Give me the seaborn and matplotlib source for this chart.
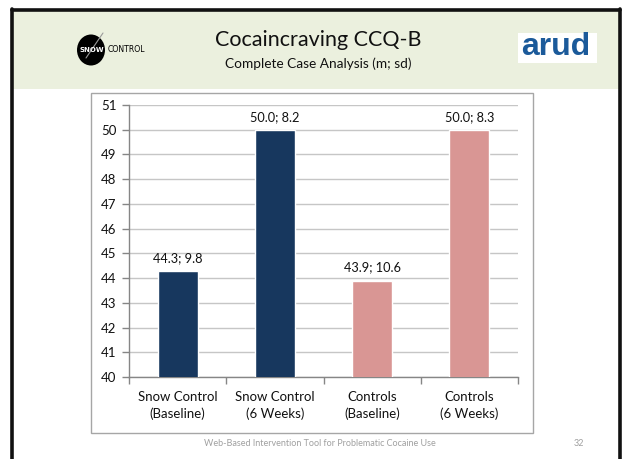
import matplotlib
matplotlib.use("Agg")
import matplotlib.pyplot as plt
from matplotlib.patches import Rectangle, Ellipse
from matplotlib.lines import Line2D
import seaborn as sns
import pandas as pd

categories = ["Snow Control\n(Baseline)", "Snow Control\n(6 Weeks)",
              "Controls\n(Baseline)", "Controls\n(6 Weeks)"]
means = [44.3, 50.0, 43.9, 50.0]
sds = [9.8, 8.2, 10.6, 8.3]
bar_colors = ["#17375E", "#17375E", "#D99694", "#D99694"]
y_ticks = list(range(40, 52))

title = "Cocaincraving CCQ-B"
subtitle = "Complete Case Analysis (m; sd)"
footer = "Web-Based Intervention Tool for Problematic Cocaine Use"
page_no = "32"

sns.set_style("white")
plt.rcParams["font.family"] = ["Lato", "DejaVu Sans"]

W, H = 623, 459
fig = plt.figure(figsize=(W / 100, H / 100), dpi=100)
fig.patch.set_facecolor("white")


def fx(x):
    return x / W


def fy(y):
    return 1 - y / H


# slide header band and frame
fig.add_artist(Rectangle((fx(12), fy(89)), fx(607), 80 / H, transform=fig.transFigure,
                         facecolor="#EBF0DE", edgecolor="none", zorder=-3))
fig.add_artist(Line2D([fx(11.5), fx(11.5)], [fy(9), 0], transform=fig.transFigure,
                      color="#111111", lw=2.6, zorder=-2))
fig.add_artist(Line2D([fx(11.5), fx(620)], [fy(9.5), fy(9.5)], transform=fig.transFigure,
                      color="#111111", lw=2.6, zorder=-2))
fig.add_artist(Line2D([fx(620), fx(620)], [fy(9), 0], transform=fig.transFigure,
                      color="#111111", lw=2.6, zorder=-2))

# chart box
fig.add_artist(Rectangle((fx(91), fy(433)), fx(442), 340 / H, transform=fig.transFigure,
                         facecolor="white", edgecolor="#A6A6A6", lw=1.0, zorder=-1))

# titles
fig.text(fx(318), fy(40), title, ha="center", va="center", fontsize=15.5, color="#111111")
fig.text(fx(318), fy(64), subtitle, ha="center", va="center", fontsize=9.8, color="#111111")

# Snow Control logo
fig.add_artist(Ellipse((fx(91), fy(50)), 28 / W, 31 / H, transform=fig.transFigure,
                       facecolor="black", edgecolor="none"))
fig.add_artist(Line2D([fx(86), fx(103)], [fy(58), fy(33)], transform=fig.transFigure,
                      color="#9A9A9A", lw=0.8))
fig.text(fx(92), fy(50), "SNOW", ha="center", va="center", fontsize=5.0,
         fontweight="bold", color="white", family="DejaVu Sans")
fig.text(fx(108), fy(50), "CONTROL", ha="left", va="center", fontsize=5.6,
         color="black", family="DejaVu Sans")

# arud logo
fig.add_artist(Rectangle((fx(518), fy(63)), fx(79), 30 / H, transform=fig.transFigure,
                         facecolor="white", edgecolor="none"))
fig.text(fx(556), fy(47), "arud", ha="center", va="center", fontsize=23,
         fontweight="bold", color="#1B5A9A", family="Liberation Sans")

# footer
fig.text(fx(320), fy(444), footer, ha="center", va="center", fontsize=6.5, color="#A0A0A0")
fig.text(fx(579), fy(444), page_no, ha="center", va="center", fontsize=6.5, color="#A0A0A0")

# bar chart
ax = fig.add_axes([fx(129), fy(377), (518 - 129) / W, (377 - 105) / H])
ax.set_facecolor("none")
df = pd.DataFrame({"group": categories, "mean": means})
sns.barplot(data=df, x="group", y="mean", hue="group", palette=bar_colors,
            width=0.41, legend=False, ax=ax, saturation=1, zorder=3)
ax.set_ylim(40, 51)
ax.set_xlim(-0.5, 3.5)
ax.set_yticks(y_ticks)
ax.yaxis.grid(True, color="#C6C6C6", lw=1.0, zorder=0)
ax.set_axisbelow(True)
ax.set_xlabel("")
ax.set_ylabel("")
for s in ["top", "right"]:
    ax.spines[s].set_visible(False)
for s in ["left", "bottom"]:
    ax.spines[s].set_color("#868686")
    ax.spines[s].set_linewidth(1.0)
ax.tick_params(axis="y", length=5, width=1, color="#868686", labelsize=9.5,
               labelcolor="#111111", pad=4, direction="out", left=True)
ax.set_xticks(range(len(categories)))
ax.set_xticklabels(categories, linespacing=1.45)
ax.tick_params(axis="x", length=0, labelsize=9.5, labelcolor="#111111", pad=10)
ax.set_xticks([-0.5, 0.5, 1.5, 2.5, 3.5], minor=True)
ax.tick_params(axis="x", which="minor", length=5, width=1, color="#868686",
               direction="out", bottom=True)

for i, (m, sd) in enumerate(zip(means, sds)):
    ax.annotate(f"{m:.1f}; {sd:.1f}", (i, m), xytext=(0, 5), textcoords="offset points",
                ha="center", va="bottom", fontsize=9.2, color="#111111")

fig.savefig("out.png", dpi=100)
